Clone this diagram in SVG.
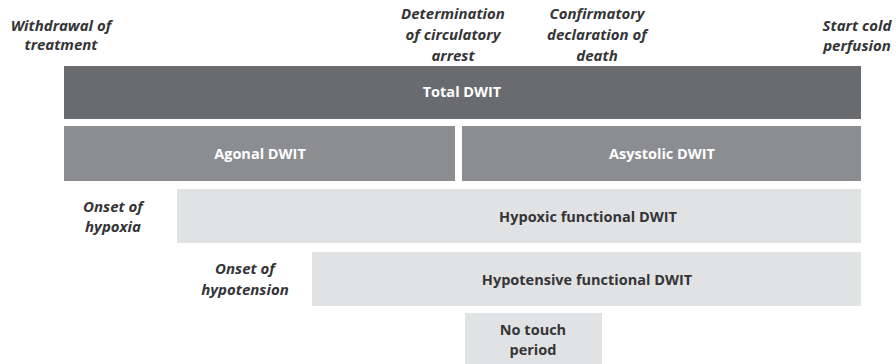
<svg xmlns="http://www.w3.org/2000/svg" width="896" height="364" viewBox="0 0 896 364">
<style>
.bg{fill:#ffffff}
.dark{fill:#6a6b6f}
.mid{fill:#8c8d91}
.light{fill:#e1e2e4}
.t{font-family:"Open Sans","Noto Sans",sans-serif;font-weight:bold;font-size:14.5px;text-anchor:middle}
.w{fill:#ffffff}
.k{fill:#353537}
.lbl{font-family:"Open Sans","Noto Sans",sans-serif;font-weight:bold;font-style:italic;font-size:15px;text-anchor:middle;fill:#353537}
</style>
<rect class="bg" x="0" y="0" width="896" height="364"/>
<g id="labels">
<text class="lbl" x="61" y="31">Withdrawal of</text>
<text class="lbl" x="61" y="50">treatment</text>
<text class="lbl" x="453" y="19">Determination</text>
<text class="lbl" x="453" y="40">of circulatory</text>
<text class="lbl" x="453" y="61">arrest</text>
<text class="lbl" x="597" y="19">Confirmatory</text>
<text class="lbl" x="597" y="40">declaration of</text>
<text class="lbl" x="597" y="61">death</text>
<text class="lbl" x="857" y="31">Start cold</text>
<text class="lbl" x="857" y="51">perfusion</text>
<text class="lbl" x="113" y="212">Onset of</text>
<text class="lbl" x="113" y="232">hypoxia</text>
<text class="lbl" x="245" y="274">Onset of</text>
<text class="lbl" x="245" y="295">hypotension</text>
</g>
<g id="total">
<rect class="dark" x="64" y="66" width="797" height="53"/>
<text class="t w" x="462" y="97">Total DWIT</text>
</g>
<g id="agonal">
<rect class="mid" x="64" y="126" width="391" height="55"/>
<text class="t w" x="260" y="159">Agonal DWIT</text>
</g>
<g id="asystolic">
<rect class="mid" x="462" y="126" width="399" height="55"/>
<text class="t w" x="662" y="159">Asystolic DWIT</text>
</g>
<g id="hypoxic">
<rect class="light" x="177" y="189" width="684" height="54"/>
<text class="t k" x="588" y="222">Hypoxic functional DWIT</text>
</g>
<g id="hypotensive">
<rect class="light" x="312" y="252" width="549" height="54"/>
<text class="t k" x="587" y="285">Hypotensive functional DWIT</text>
</g>
<g id="notouch">
<rect class="light" x="465" y="313" width="137" height="51"/>
<text class="t k" x="533" y="335">No touch</text>
<text class="t k" x="533" y="355">period</text>
</g>
<g id="connectors"/>
</svg>
